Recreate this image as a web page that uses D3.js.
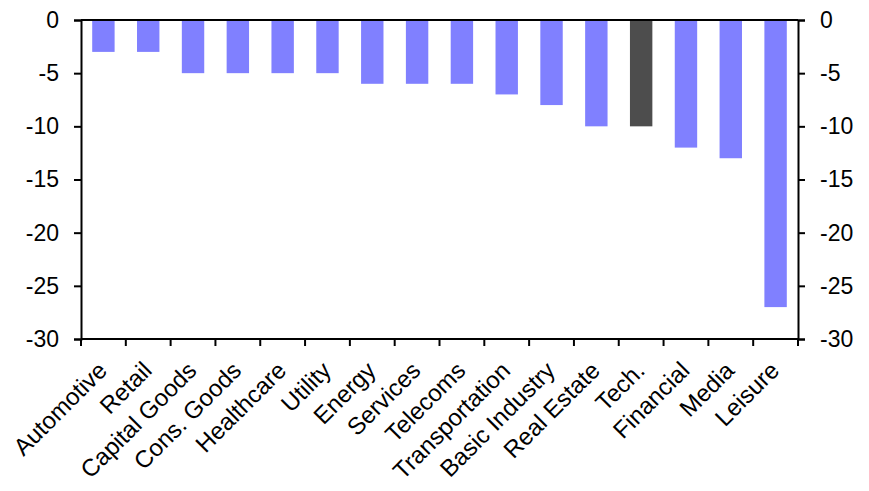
<!DOCTYPE html>
<html>
<head>
    <meta charset="utf-8">
    <script src="https://d3js.org/d3.v7.min.js"></script>
</head>
<body style="margin: 0; padding: 0; background: #fff;">
    <div id="container"></div>
    <script>
        // Sectors and values
        var sectors = ["Automotive", "Retail", "Capital Goods", "Cons. Goods", "Healthcare", "Utility",
            "Energy", "Services", "Telecoms", "Transportation", "Basic Industry", "Real Estate",
            "Tech.", "Financial", "Media", "Leisure"];
        var values = [-3, -3, -5, -5, -5, -5, -6, -6, -6, -7, -8, -10, -10, -12, -13, -27];
        var highlight = ["Tech."];
        var yTicks = [0, -5, -10, -15, -20, -25, -30];

        var width = 869, height = 491;
        var margin = { top: 20, right: 71, bottom: 152, left: 81 };
        var fontSize = "23px";

        var svg = d3.select("#container").append("svg")
            .attr("width", width)
            .attr("height", height)
            .style("font-family", "Liberation Sans, Arial, sans-serif");

        var x = d3.scaleBand()
            .domain(sectors)
            .range([margin.left, width - margin.right])
            .paddingInner(0.5)
            .paddingOuter(0.25);

        var y = d3.scaleLinear()
            .domain([-30, 0])
            .range([height - margin.bottom, margin.top]);

        // bars
        svg.selectAll("rect.bar")
            .data(sectors)
            .enter().append("rect")
            .attr("class", "bar")
            .attr("x", d => x(d))
            .attr("width", x.bandwidth())
            .attr("y", y(0))
            .attr("height", (d, i) => y(values[i]) - y(0))
            .style("fill", d => highlight.includes(d) ? "#4d4d4d" : "#8080ff");

        // left and right axes
        var left = svg.append("g")
            .attr("transform", `translate(${margin.left},0)`)
            .call(d3.axisLeft(y).tickValues(yTicks).tickFormat(d => String(d)).tickSize(7).tickPadding(15));
        var right = svg.append("g")
            .attr("transform", `translate(${width - margin.right},0)`)
            .call(d3.axisRight(y).tickValues(yTicks).tickFormat(d => String(d)).tickSize(7).tickPadding(15));

        [left, right].forEach(function (g) {
            g.select(".domain").attr("stroke", "#000").attr("stroke-width", 2);
            g.selectAll(".tick line").attr("stroke", "#000").attr("stroke-width", 2);
            g.selectAll(".tick text")
                .style("font-size", fontSize)
                .style("font-family", "Liberation Sans, Arial, sans-serif")
                .attr("fill", "#000");
        });

        // zero line at top
        svg.append("line")
            .attr("x1", margin.left).attr("x2", width - margin.right)
            .attr("y1", y(0)).attr("y2", y(0))
            .attr("stroke", "#000").attr("stroke-width", 2);

        // bottom axis with ticks between categories
        var bottomY = y(-30);
        svg.append("line")
            .attr("x1", margin.left).attr("x2", width - margin.right)
            .attr("y1", bottomY).attr("y2", bottomY)
            .attr("stroke", "#000").attr("stroke-width", 2);

        var edges = d3.range(sectors.length + 1).map(i => margin.left + i * x.step());
        svg.selectAll("line.xtick")
            .data(edges)
            .enter().append("line")
            .attr("class", "xtick")
            .attr("x1", d => d).attr("x2", d => d)
            .attr("y1", bottomY).attr("y2", bottomY + 7)
            .attr("stroke", "#000").attr("stroke-width", 2);

        svg.selectAll("text.xlab")
            .data(sectors)
            .enter().append("text")
            .attr("class", "xlab")
            .attr("text-anchor", "end")
            .attr("transform", d => `translate(${x(d) + x.bandwidth() / 2 + 5},${bottomY + 33}) rotate(-45)`)
            .style("font-size", "24px")
            .text(d => d);
    </script>
</body>
</html>
